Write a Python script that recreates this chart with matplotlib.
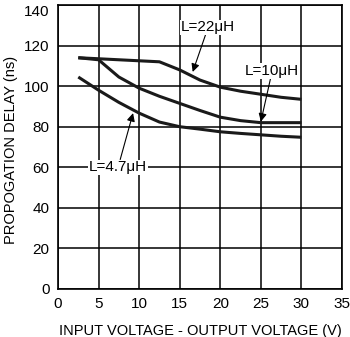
import matplotlib.pyplot as plt

plt.rcParams['font.family'] = ['Liberation Sans', 'DejaVu Sans']

# input - output voltage (V)
vdiff = [2.5, 5, 7.5, 10, 12.5, 15, 17.5, 20, 22.5, 25, 27.5, 30]
# propagation delay (ns) for each inductor
delay_22uh = [114, 113.5, 113, 112.5, 112, 108, 103, 99.5, 97.5, 96, 94.5, 93.5]
delay_10uh = [114, 113, 104.5, 99, 95, 91.5, 88, 84.7, 83, 82, 82, 82]
delay_4u7h = [104.5, 98, 92, 86.7, 82.3, 80, 78.8, 77.5, 76.7, 76, 75.3, 74.8]

xticks = [0, 5, 10, 15, 20, 25, 30, 35]
yticks = [0, 20, 40, 60, 80, 100, 120, 140]


def main():
    fig = plt.figure(figsize=(3.5, 3.37), dpi=100)
    ax = fig.add_axes([58 / 350, 48 / 337, 284 / 350, 284 / 337])

    ax.set_xlim(0, 35)
    ax.set_ylim(0, 140)
    ax.set_xticks(xticks)
    ax.set_yticks(yticks)
    ax.grid(True, color='black', linewidth=1.1)
    ax.set_axisbelow(True)
    for sp in ax.spines.values():
        sp.set_linewidth(1.2)
    ax.tick_params(length=0, labelsize=11, pad=6)
    # top label would be clipped by the figure edge, hang it below the line
    ax.get_yticklabels()[-1].set_va('top')

    for ys in (delay_22uh, delay_10uh, delay_4u7h):
        ax.plot(vdiff, ys, color='#1a1a1a', linewidth=2.2, solid_capstyle='butt')

    arrow = dict(arrowstyle='-|>', color='black', lw=0.8, mutation_scale=12,
                 shrinkA=0, shrinkB=0)
    box = dict(boxstyle='square,pad=0.05', fc='white', ec='none')
    ax.annotate('L=22\u03bcH', xy=(16.6, 107), xytext=(18.5, 129),
                ha='center', va='center', fontsize=11, arrowprops=arrow, bbox=box)
    ax.annotate('L=10\u03bcH', xy=(25.0, 82.5), xytext=(26.4, 107.5),
                ha='center', va='center', fontsize=11, arrowprops=arrow, bbox=box)
    ax.annotate('L=4.7\u03bcH', xy=(9.25, 86.7), xytext=(7.4, 60),
                ha='center', va='center', fontsize=11, arrowprops=arrow, bbox=box)

    ax.set_xlabel('INPUT VOLTAGE - OUTPUT VOLTAGE (V)', fontsize=10.5, labelpad=9)
    ax.set_ylabel('PROPOGATION DELAY (ns)', fontsize=10.5)
    ax.yaxis.set_label_coords(-40 / 284, 0.49)

    fig.savefig('out.png', dpi=100)


if __name__ == '__main__':
    main()
